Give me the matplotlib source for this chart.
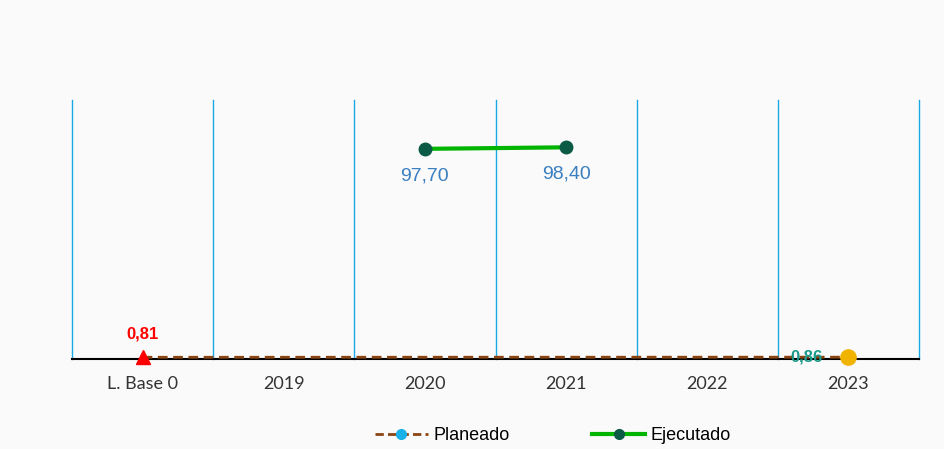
import numpy as np
import matplotlib.pyplot as plt
from matplotlib.lines import Line2D

categories = ['L. Base 0', '2019', '2020', '2021', '2022', '2023']
planeado = [0.81, np.nan, np.nan, np.nan, np.nan, 0.86]
ejecutado = [np.nan, np.nan, 97.70, 98.40, np.nan, np.nan]


def fmt(v):
    return f'{v:.2f}'.replace('.', ',')


def main():
    fig = plt.figure(figsize=(9.45, 4.49), dpi=100, facecolor='#fafafa')
    ax = fig.add_axes([0.0762, 0.2004, 0.8963, 0.5769])
    ax.set_facecolor('#fafafa')

    x = np.arange(len(categories))
    p = np.array(planeado)
    e = np.array(ejecutado)

    # planned: dashed line across the gaps
    pm = ~np.isnan(p)
    ax.plot(x[pm], p[pm], '--', color='#8b4513', lw=2, dashes=(3.5, 2), zorder=3)
    ax.plot(x[0], p[0], '^', color='red', ms=10, zorder=4, clip_on=False)
    ax.plot(x[-1], p[-1], 'o', color='#f0b400', ms=11, zorder=4, clip_on=False)
    ax.text(x[0], p[0] + 7.5, fmt(p[0]), color='red', fontweight='bold',
            fontsize=12, ha='center', va='bottom', family='Liberation Sans')
    ax.text(x[-1] - 0.18, p[-1], fmt(p[-1]), color='#1a9a8a', fontweight='bold',
            fontsize=12, ha='right', va='center', family='Liberation Sans',
            zorder=5)

    # executed
    em = ~np.isnan(e)
    ax.plot(x[em], e[em], '-', color='#00b400', lw=3, marker='o',
            mfc='#0b5a45', mec='#0b5a45', ms=9, zorder=4)
    for xi, v in zip(x[em], e[em]):
        ax.text(xi, v - 8.5, fmt(v), color='#3a7fc0', fontsize=14,
                ha='center', va='top', family='Liberation Sans')

    ax.set_xlim(-0.5, len(categories) - 0.5)
    ax.set_ylim(0, 120.4)
    for b in np.arange(-0.5, len(categories), 1):
        ax.axvline(b, color='#19a9e6', lw=1, zorder=1, clip_on=False)
    for s in ['top', 'left', 'right']:
        ax.spines[s].set_visible(False)
    ax.spines['bottom'].set_color('black')
    ax.spines['bottom'].set_linewidth(1.5)
    ax.set_yticks([])
    ax.set_xticks(x)
    ax.set_xticklabels(categories, fontsize=13, color='#333333', family='Lato')
    ax.tick_params(axis='x', length=0, pad=12)

    handles = [
        Line2D([], [], color='#8b4513', ls='--', lw=2, dashes=(3, 1.5),
               marker='o', mfc='#1ab0e8', mec='#1ab0e8', ms=7),
        Line2D([], [], color='#00b400', lw=3, marker='o',
               mfc='#0b5a45', mec='#0b5a45', ms=7),
    ]
    fig.legend(handles, ['Planeado', 'Ejecutado'], loc='center',
               bbox_to_anchor=(0.585, 0.03), ncol=2, frameon=False,
               columnspacing=4.6, handlelength=2.9,
               handletextpad=0.3, prop={'family': 'Liberation Sans', 'size': 13})

    fig.savefig('out.png', dpi=100, facecolor=fig.get_facecolor())


if __name__ == '__main__':
    main()
